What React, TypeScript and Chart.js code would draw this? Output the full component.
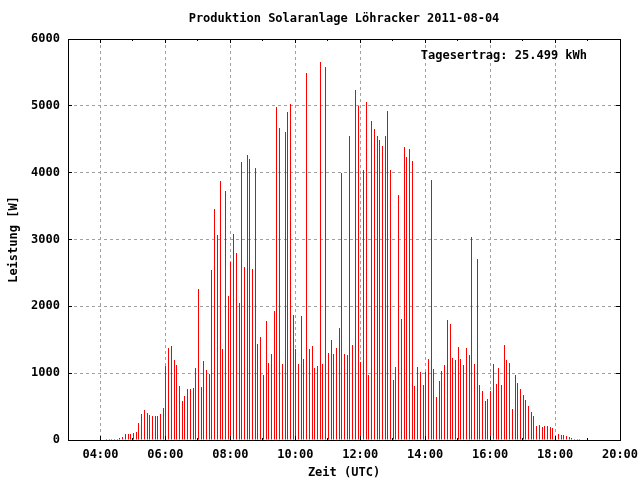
import React, { useEffect, useRef } from "react";
import { Chart, registerables } from "chart.js";

Chart.register(...registerables);

// Hour blocks (04:xx ... 18:xx), one value every 5 minutes (logged at :01, :06, ...), in W
const hourStarts = [4, 5, 6, 7, 8, 9, 10, 11, 12, 13, 14, 15, 16, 17, 18];
const leistung04 = [null, null, 15, 20, 20, 20, 20, 35, 50, 95, 95, 95];
const leistung05 = [110, 125, 260, 395, 455, 410, 380, 365, 365, 365, 395, 485];
const leistung06 = [1110, 1380, 1410, 1200, 1125, 810, 590, 660, 765, 765, 780, 1080];
const leistung07 = [2260, 797, 1185, 1050, 990, 2545, 3456, 3068, 3874, 1365, 3725, 2156];
const leistung08 = [2664, 3083, 2799, 2052, 4158, 2590, 4263, 4203, 2560, 4069, 1439, 1544];
const leistung09 = [976, 1783, 1155, 1290, 1932, 4980, 4666, 1140, 4606, 4905, 5025, 1872];
const leistung10 = [1360, 1140, 1857, 1215, 5488, 1365, 1409, 1080, 1110, 5652, 1140, 5578];
const leistung11 = [1305, 1500, 1290, 1380, 1678, 3994, 1290, 1275, 4547, 1424, 5234, 4995];
const leistung12 = [1170, 4039, 5055, 976, 4771, 4651, 4547, 4487, 4397, 4547, 4920, 4039];
const leistung13 = [901, 1096, 3665, 1813, 4382, 4233, 4352, 4173, 812, 1096, 1021, 827];
const leistung14 = [1021, 1215, 3889, 1066, 647, 886, 1036, 1125, 1798, 1738, 1230, 1200];
const leistung15 = [1394, 1215, 1125, 1380, 1275, 3038, 1140, 2709, 827, 737, 588, 618];
const leistung16 = [730, 1140, 842, 1080, 827, 1424, 1200, 1155, 468, 976, 857, 767];
const leistung17 = [677, 603, 513, 423, 364, 215, 225, 190, 215, 205, 190, 180];
const leistung18 = [15, 95, 80, 80, 65, 50, 35, 20, 20, 20, null, null];

const hourBlocks = [
  leistung04, leistung05, leistung06, leistung07, leistung08, leistung09, leistung10,
  leistung11, leistung12, leistung13, leistung14, leistung15, leistung16, leistung17, leistung18,
];
const sampleStepMin = 5;
const sampleOffsetMin = 1;

const titleText = "Produktion Solaranlage Löhracker 2011-08-04";
const xTitle = "Zeit (UTC)";
const yTitle = "Leistung [W]";
const energyLabel = "Tagesertrag: 25.499 kWh";
const xMinMin = 180; // 03:00
const xMaxMin = 1200; // 20:00
const xMajorStep = 120;
const xMinorStep = 60;
const yMax = 6000;
const yStep = 1000;

const FONT_FAMILY = "'DejaVu Sans Mono', monospace";
const font = { family: FONT_FAMILY, size: 12, weight: "bold" as const, lineHeight: 1.2 };

function fmtTime(v: number) {
  const h = Math.floor(v / 60);
  const m = Math.round(v % 60);
  return String(h).padStart(2, "0") + ":" + String(m).padStart(2, "0");
}

const align = (p: number) => Math.round(p - 0.5) + 0.5;

const pixelSnap = {
  id: "pixelSnap",
  afterDatasetsUpdate(chart: any) {
    chart.getDatasetMeta(0).data.forEach((el: any) => {
      el.x = Math.floor(el.x) + 0.5;
      el.y = Math.round(el.y);
    });
  },
};

const frame = {
  id: "frame",
  afterDraw(chart: any) {
    const { ctx, chartArea, scales } = chart;
    const { left, right, top, bottom } = chartArea;
    const x = scales.x;
    const y = scales.y;
    ctx.save();
    ctx.strokeStyle = "#000";
    ctx.lineWidth = 1;
    ctx.beginPath();
    for (let m = xMinMin; m <= xMaxMin; m += xMinorStep) {
      const px = align(x.getPixelForValue(m));
      const len = m % xMajorStep === 0 ? 4 : 2;
      ctx.moveTo(px, bottom);
      ctx.lineTo(px, bottom - len);
      ctx.moveTo(px, top);
      ctx.lineTo(px, top + len);
    }
    for (let v = 0; v <= yMax; v += yStep) {
      const py = align(y.getPixelForValue(v));
      ctx.moveTo(left, py);
      ctx.lineTo(left + 4, py);
      ctx.moveTo(right, py);
      ctx.lineTo(right - 4, py);
    }
    ctx.stroke();
    const l = align(left), r = align(right), t = align(top), b = align(bottom);
    ctx.strokeRect(l, t, r - l, b - t);
    ctx.fillStyle = "#000";
    ctx.font = `bold 12px ${FONT_FAMILY}`;
    ctx.textAlign = "right";
    ctx.textBaseline = "middle";
    ctx.fillText(energyLabel, right - 33, top + 17);
    ctx.restore();
  },
};

export default function App() {
  const ref = useRef<HTMLCanvasElement | null>(null);

  useEffect(() => {
    if (!ref.current) return;
    const points: { x: number; y: number }[] = [];
    hourBlocks.forEach((block, hi) => {
      block.forEach((v, i) => {
        if (v !== null && v !== undefined) {
          points.push({ x: hourStarts[hi] * 60 + i * sampleStepMin + sampleOffsetMin, y: v as number });
        }
      });
    });

    const chart = new Chart(ref.current, {
      type: "bar",
      data: {
        datasets: [
          {
            data: points as any,
            backgroundColor: "#ff0000",
            borderWidth: 0,
            barThickness: 1,
            inflateAmount: 0,
          } as any,
        ],
      },
      options: {
        animation: false,
        responsive: false,
        devicePixelRatio: 1,
        layout: { padding: { left: 0, right: 20, top: 0, bottom: 0 } },
        plugins: {
          legend: { display: false },
          tooltip: { enabled: false },
          title: {
            display: true,
            text: titleText,
            color: "#000",
            font,
            fullSize: false,
            padding: { top: 12, bottom: 12.6 },
          },
        },
        scales: {
          x: {
            type: "linear",
            min: xMinMin,
            max: xMaxMin,
            bounds: "data",
            offset: false,
            grid: { offset: false, color: "#a0a0a0", lineWidth: 1, drawTicks: false },
            border: { display: false, dash: [3, 3] },
            ticks: {
              autoSkip: false,
              maxRotation: 0,
              minRotation: 0,
              padding: 8,
              color: "#000",
              font,
              callback: (v: any) => fmtTime(Number(v)),
            },
            afterBuildTicks: (s: any) => {
              const t: { value: number }[] = [];
              for (let v = Math.ceil(xMinMin / xMajorStep) * xMajorStep; v <= xMaxMin; v += xMajorStep) {
                t.push({ value: v });
              }
              s.ticks = t;
            },
            title: { display: true, text: xTitle, color: "#000", font, padding: { top: 0, bottom: 0 } },
            afterFit: (s: any) => {
              s.height = 40;
              s.paddingLeft = 0;
              s.paddingRight = 0;
            },
          } as any,
          y: {
            type: "linear",
            min: 0,
            max: yMax,
            grid: { color: "#a0a0a0", lineWidth: 1, drawTicks: false },
            border: { display: false, dash: [3, 3] },
            ticks: {
              stepSize: yStep,
              padding: 8,
              color: "#000",
              font,
              callback: (v: any) => String(v),
            },
            title: { display: true, text: yTitle, color: "#000", font, padding: { top: 7, bottom: 0 } },
            afterFit: (s: any) => {
              s.width = 68;
              s.paddingTop = 0;
              s.paddingBottom = 0;
            },
          } as any,
        },
      },
      plugins: [pixelSnap, frame],
    });
    return () => chart.destroy();
  }, []);

  return (
    <div style={{ position: "fixed", left: 0, top: 0, width: 640, height: 480, background: "#fff" }}>
      <canvas ref={ref} width={640} height={480} style={{ display: "block" }} />
    </div>
  );
}
